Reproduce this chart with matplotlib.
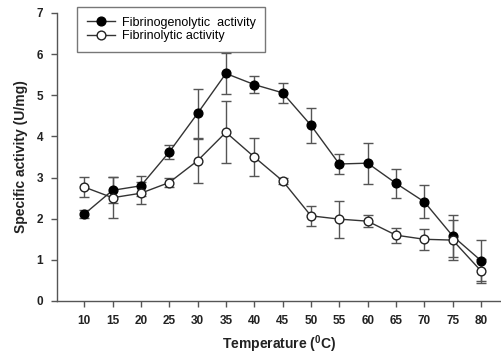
import numpy as np
import matplotlib
matplotlib.use("Agg")
import matplotlib.pyplot as plt
from matplotlib.lines import Line2D

plt.rcParams['font.family'] = ['Liberation Sans', 'DejaVu Sans']
plt.rcParams['mathtext.fontset'] = 'custom'
plt.rcParams['mathtext.rm'] = 'Liberation Sans:bold'
plt.rcParams['mathtext.bf'] = 'Liberation Sans:bold'

temp = [10, 15, 20, 25, 30, 35, 40, 45, 50, 55, 60, 65, 70, 75, 80]

# fibrinogenolytic activity (U/mg) and SD
fbg = [2.11, 2.69, 2.80, 3.62, 4.56, 5.53, 5.26, 5.06, 4.27, 3.33, 3.35, 2.86, 2.41, 1.58, 0.98]
fbg_sd = [0.10, 0.32, 0.24, 0.17, 0.60, 0.50, 0.20, 0.25, 0.42, 0.25, 0.50, 0.35, 0.40, 0.50, 0.50]

# fibrinolytic activity (U/mg) and SD
fbn = [2.77, 2.51, 2.62, 2.88, 3.41, 4.10, 3.50, 2.92, 2.07, 1.99, 1.94, 1.60, 1.50, 1.48, 0.73]
fbn_sd = [0.25, 0.50, 0.27, 0.11, 0.53, 0.75, 0.45, 0.07, 0.24, 0.45, 0.15, 0.18, 0.26, 0.48, 0.30]

labels = ['Fibrinogenolytic  activity', 'Fibrinolytic activity']

fig = plt.figure(figsize=(5.02, 3.56), dpi=100)
ax = fig.add_axes([0.1135, 0.1545, 0.8865, 0.809])

ecol = '#555555'
lcol = '#333333'
ax.errorbar(temp, fbg, yerr=fbg_sd, fmt='-o', color=lcol, lw=1.0,
            ms=6.3, mfc='black', mec='black', ecolor=ecol, elinewidth=1.0,
            capsize=3.5, capthick=1.0, zorder=3)
ax.errorbar(temp, fbn, yerr=fbn_sd, fmt='-o', color=lcol, lw=1.0,
            ms=6.3, mfc='white', mec='#222222', ecolor=ecol, elinewidth=1.0,
            capsize=3.5, capthick=1.0, zorder=3)

ax.set_xlim(5.2, 83.7)
ax.set_ylim(0, 7)
ax.set_xticks(temp)
ax.set_yticks(range(0, 8))
for s in ['top', 'right']:
    ax.spines[s].set_visible(False)
for s in ['left', 'bottom']:
    ax.spines[s].set_color(ecol)
    ax.spines[s].set_linewidth(1.0)
ax.tick_params(direction='out', length=4, width=1.0, color=ecol,
               labelsize=8.5, pad=6)
for lab in ax.get_xticklabels() + ax.get_yticklabels():
    lab.set_fontweight('bold')
    lab.set_color('#222222')

ax.set_xlabel(r'Temperature ($^{0}$C)', fontsize=10, fontweight='bold',
              color='#222222', labelpad=5)
ax.set_ylabel('Specific activity (U/mg)', fontsize=10, fontweight='bold',
              color='#222222', labelpad=6)

# legend shows line + marker only, no error bars
handles = [Line2D([], [], color=lcol, lw=1.0, marker='o', ms=6.3,
                  mfc='black', mec='black'),
           Line2D([], [], color=lcol, lw=1.0, marker='o', ms=6.3,
                  mfc='white', mec='#222222')]
leg = ax.legend(handles, labels, loc='upper left', bbox_to_anchor=(0.044, 1.022),
                fontsize=9, frameon=True, fancybox=False, edgecolor='#555555',
                handlelength=2.25, borderpad=0.8, labelspacing=0.1,
                handletextpad=0.55, borderaxespad=0)
leg.get_frame().set_linewidth(1.0)

fig.savefig('out.png', dpi=100)
